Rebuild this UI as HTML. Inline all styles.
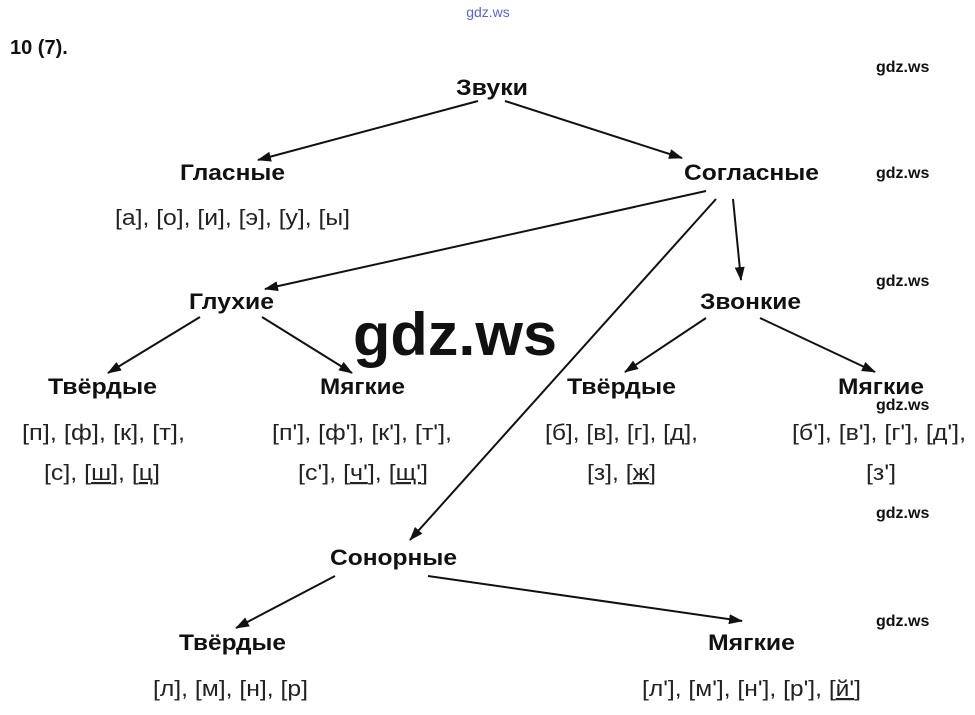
<!DOCTYPE html>
<html><head><meta charset="utf-8"><style>
html,body{margin:0;padding:0;background:#fff;}
svg{display:block;}
text{font-family:"Liberation Sans","DejaVu Sans",sans-serif;fill:#111;}
.b{font-weight:bold;font-size:22px;}
.r{font-size:22px;fill:#222;}
.w{font-weight:bold;font-size:16px;}
.u{text-decoration:underline;}
</style></head><body>
<svg width="975" height="715" viewBox="0 0 975 715">
<defs><marker id="a" markerWidth="14" markerHeight="10" refX="13" refY="5" orient="auto" markerUnits="userSpaceOnUse"><path d="M0,0 L14,5 L0,10 Z" fill="#111"/></marker></defs>
<text x="488" y="17" text-anchor="middle" style="font-size:14px;fill:#5566dd">gdz.ws</text>
<text x="10" y="54" class="b" style="font-size:20px">10 (7).</text>
<g class="w"><text x="876" y="72" class="w">gdz.ws</text><text x="876" y="178" class="w">gdz.ws</text><text x="876" y="286" class="w">gdz.ws</text><text x="876" y="410" class="w">gdz.ws</text><text x="876" y="518" class="w">gdz.ws</text><text x="876" y="626" class="w">gdz.ws</text></g>
<g lengthAdjust="spacingAndGlyphs">
<text x="456" y="95" class="b" textLength="72" lengthAdjust="spacingAndGlyphs">Звуки</text>
<text x="180" y="180" class="b" textLength="105" lengthAdjust="spacingAndGlyphs">Гласные</text>
<text x="684" y="180" class="b" textLength="135" lengthAdjust="spacingAndGlyphs">Согласные</text>
<text x="115" y="225" class="r" textLength="235" lengthAdjust="spacingAndGlyphs">[а], [о], [и], [э], [у], [ы]</text>
<text x="189" y="309" class="b" textLength="85" lengthAdjust="spacingAndGlyphs">Глухие</text>
<text x="700" y="309" class="b" textLength="101" lengthAdjust="spacingAndGlyphs">Звонкие</text>
<text x="353" y="355" style="font-size:60px;font-weight:bold" textLength="204" lengthAdjust="spacingAndGlyphs">gdz.ws</text>
<text x="48" y="394" class="b" textLength="109" lengthAdjust="spacingAndGlyphs">Твёрдые</text>
<text x="320" y="394" class="b" textLength="85" lengthAdjust="spacingAndGlyphs">Мягкие</text>
<text x="567" y="394" class="b" textLength="109" lengthAdjust="spacingAndGlyphs">Твёрдые</text>
<text x="838" y="394" class="b" textLength="86" lengthAdjust="spacingAndGlyphs">Мягкие</text>
<text x="22" y="440" class="r" textLength="163" lengthAdjust="spacingAndGlyphs">[п], [ф], [к], [т],</text>
<text x="44" y="480" class="r" textLength="116" lengthAdjust="spacingAndGlyphs">[с], [<tspan class="u">ш</tspan>], [<tspan class="u">ц</tspan>]</text>
<text x="272" y="440" class="r" textLength="180" lengthAdjust="spacingAndGlyphs">[п'], [ф'], [к'], [т'],</text>
<text x="298" y="480" class="r" textLength="130" lengthAdjust="spacingAndGlyphs">[с'], [<tspan class="u">ч'</tspan>], [<tspan class="u">щ'</tspan>]</text>
<text x="545" y="440" class="r" textLength="153" lengthAdjust="spacingAndGlyphs">[б], [в], [г], [д],</text>
<text x="587" y="480" class="r" textLength="69" lengthAdjust="spacingAndGlyphs">[з], [<tspan class="u">ж</tspan>]</text>
<text x="792" y="440" class="r" textLength="174" lengthAdjust="spacingAndGlyphs">[б'], [в'], [г'], [д'],</text>
<text x="866" y="480" class="r" textLength="30" lengthAdjust="spacingAndGlyphs">[з']</text>
<text x="330" y="565" class="b" textLength="127" lengthAdjust="spacingAndGlyphs">Сонорные</text>
<text x="179" y="650" class="b" textLength="107" lengthAdjust="spacingAndGlyphs">Твёрдые</text>
<text x="708" y="650" class="b" textLength="87" lengthAdjust="spacingAndGlyphs">Мягкие</text>
<text x="153" y="696" class="r" textLength="155" lengthAdjust="spacingAndGlyphs">[л], [м], [н], [р]</text>
<text x="642" y="696" class="r" textLength="219" lengthAdjust="spacingAndGlyphs">[л'], [м'], [н'], [р'], [<tspan class="u">й'</tspan>]</text>
</g>
<g stroke="#111" stroke-width="2" fill="none" marker-end="url(#a)">
<line x1="478" y1="101" x2="258" y2="160"/>
<line x1="505" y1="101" x2="682" y2="158"/>
<line x1="706" y1="191" x2="265" y2="289"/>
<line x1="716" y1="199" x2="410" y2="540"/>
<line x1="733" y1="199" x2="741" y2="280"/>
<line x1="200" y1="317" x2="108" y2="373"/>
<line x1="262" y1="317" x2="352" y2="373"/>
<line x1="706" y1="318" x2="625" y2="372"/>
<line x1="760" y1="318" x2="875" y2="372"/>
<line x1="335" y1="576" x2="236" y2="628"/>
<line x1="428" y1="576" x2="742" y2="621"/>
</g>
</svg>
</body></html>
